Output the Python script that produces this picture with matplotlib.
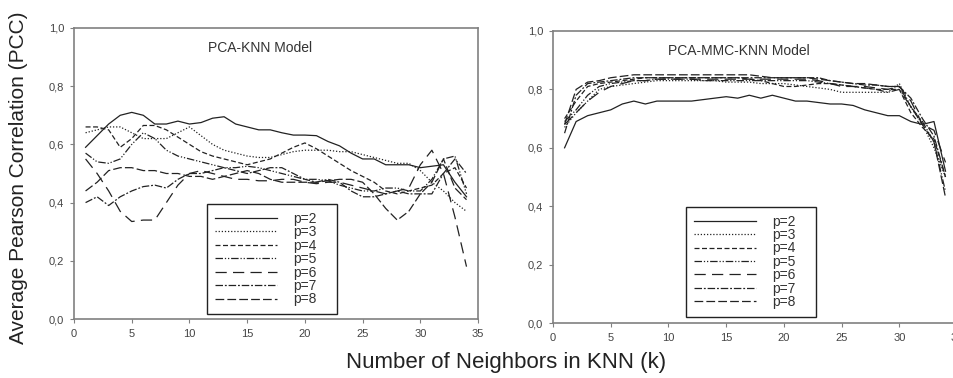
import matplotlib
matplotlib.use('Agg')
import matplotlib.pyplot as plt
import numpy as np

plt.rcParams['font.family'] = ['Liberation Sans', 'DejaVu Sans']

# k = number of neighbours
k = np.arange(1, 35)
labels = ['p=2', 'p=3', 'p=4', 'p=5', 'p=6', 'p=7', 'p=8']

# PCA-KNN model, average PCC per p
knn_p2 = [.59, .63, .67, .70, .71, .70, .67, .67, .68, .67, .675, .69, .695, .67, .66, .65, .65,
          .64, .632, .632, .63, .61, .595, .57, .55, .55, .53, .53, .53, .52, .525, .53, .47, .42]
knn_p3 = [.64, .65, .66, .66, .64, .62, .62, .62, .64, .66, .63, .60, .58, .57, .56, .555, .555,
          .565, .575, .58, .58, .58, .575, .575, .565, .555, .545, .535, .535, .51, .47, .44, .40, .37]
knn_p4 = [.66, .66, .65, .59, .62, .665, .665, .65, .625, .60, .575, .56, .55, .54, .53, .54, .55,
          .57, .59, .605, .585, .56, .535, .51, .49, .47, .44, .43, .44, .45, .46, .50, .52, .45]
knn_p5 = [.57, .54, .535, .55, .60, .64, .62, .58, .56, .55, .54, .53, .52, .52, .525, .52, .51,
          .50, .49, .48, .48, .475, .46, .45, .44, .44, .45, .45, .44, .44, .48, .55, .56, .43]
knn_p6 = [.55, .50, .44, .37, .335, .34, .34, .40, .46, .50, .51, .50, .49, .48, .48, .475, .475,
          .48, .48, .47, .465, .47, .47, .46, .45, .44, .43, .44, .45, .53, .58, .50, .35, .18]
knn_p7 = [.40, .42, .39, .42, .44, .455, .46, .45, .48, .50, .50, .51, .52, .51, .50, .51, .52,
          .52, .50, .48, .47, .48, .47, .44, .42, .42, .43, .44, .43, .43, .43, .50, .55, .50]
knn_p8 = [.44, .47, .51, .52, .52, .51, .51, .50, .50, .49, .49, .48, .49, .50, .51, .50, .48,
          .47, .47, .47, .47, .475, .48, .48, .47, .43, .38, .34, .37, .43, .47, .55, .45, .41]

# PCA-MMC-KNN model
mmc_p2 = [.60, .69, .71, .72, .73, .75, .76, .75, .76, .76, .76, .76, .765, .77, .775, .77, .78,
          .77, .78, .77, .76, .76, .755, .75, .75, .745, .73, .72, .71, .71, .69, .68, .69, .52]
mmc_p3 = [.67, .72, .76, .80, .81, .815, .82, .825, .83, .83, .83, .83, .83, .83, .825, .825, .825,
          .82, .82, .82, .815, .81, .805, .80, .79, .79, .79, .79, .79, .82, .74, .68, .60, .50]
mmc_p4 = [.70, .76, .81, .82, .825, .83, .835, .84, .84, .84, .84, .84, .84, .84, .84, .84, .835,
          .83, .82, .81, .81, .815, .82, .82, .815, .81, .805, .80, .80, .80, .72, .67, .63, .50]
mmc_p5 = [.69, .73, .78, .81, .82, .825, .83, .83, .835, .835, .835, .835, .83, .83, .83, .83, .83,
          .83, .83, .83, .83, .83, .825, .82, .815, .81, .805, .80, .79, .80, .74, .69, .62, .45]
mmc_p6 = [.68, .72, .76, .79, .81, .82, .83, .83, .835, .835, .835, .835, .835, .835, .835, .835, .835,
          .835, .835, .835, .835, .835, .83, .82, .81, .81, .81, .805, .80, .81, .76, .68, .66, .55]
mmc_p7 = [.65, .78, .82, .825, .83, .835, .84, .84, .84, .84, .84, .84, .84, .84, .84, .84, .84,
          .84, .84, .84, .84, .84, .84, .83, .825, .82, .815, .815, .81, .81, .77, .70, .64, .50]
mmc_p8 = [.68, .80, .825, .83, .84, .845, .85, .85, .85, .85, .85, .85, .85, .85, .85, .85, .85,
          .845, .84, .84, .84, .84, .835, .83, .825, .82, .82, .815, .81, .81, .74, .68, .62, .43]

knn_series = [knn_p2, knn_p3, knn_p4, knn_p5, knn_p6, knn_p7, knn_p8]
mmc_series = [mmc_p2, mmc_p3, mmc_p4, mmc_p5, mmc_p6, mmc_p7, mmc_p8]

styles = ['-', (0, (1, 1.5)), (0, (4, 2)), (0, (6, 1.5, 1, 1.5, 1, 1.5)),
          (0, (9, 5)), (0, (6, 1.5, 1.5, 1.5)), (0, (7, 2.5))]

fig = plt.figure(figsize=(9.54, 3.78), dpi=100)
ax1 = fig.add_axes([0.0776, 0.156, 0.4235, 0.770])
ax2 = fig.add_axes([0.5797, 0.1455, 0.4235, 0.7725])


def draw(ax, series, title, leg_y):
    for vals, ls, lab in zip(series, styles, labels):
        ax.plot(k, vals, color='#222222', linestyle=ls, linewidth=0.9, label=lab)
    ax.set_xlim(0, 35)
    ax.set_ylim(0, 1)
    ax.set_xticks(np.arange(0, 36, 5))
    ax.set_yticks(np.arange(0, 1.01, 0.2))
    ax.set_yticklabels([f'{v:.1f}'.replace('.', ',') for v in np.arange(0, 1.01, 0.2)])
    for s in ax.spines.values():
        s.set_color('#808080')
        s.set_linewidth(1.2)
    ax.tick_params(direction='out', length=3, width=0.8, color='#808080',
                   labelsize=8, labelcolor='#444444', pad=4)
    ax.text(0.46, 0.93, title, transform=ax.transAxes, ha='center', va='center',
            fontsize=10, color='#333333')
    leg = ax.legend(loc='lower left', bbox_to_anchor=(0.329, leg_y, 0.322, 0.3),
                    mode='expand', fontsize=10,
                    handlelength=4.5, handletextpad=1.15, labelspacing=-0.04,
                    borderpad=0.55, fancybox=False, framealpha=1,
                    edgecolor='#222222', borderaxespad=0)
    leg.get_frame().set_linewidth(1.0)
    for t in leg.get_texts():
        t.set_color('#333333')


draw(ax1, knn_series, 'PCA-KNN Model', 0.017)
draw(ax2, mmc_series, 'PCA-MMC-KNN Model', 0.021)

fig.text(0.019, 0.53, 'Average Pearson Correlation (PCC)', rotation=90,
         ha='center', va='center', fontsize=15, color='#222222')
fig.text(0.530, 0.042, 'Number of Neighbors in KNN (k)', ha='center', va='center',
         fontsize=16, color='#222222')

fig.savefig('out.png', dpi=100)
